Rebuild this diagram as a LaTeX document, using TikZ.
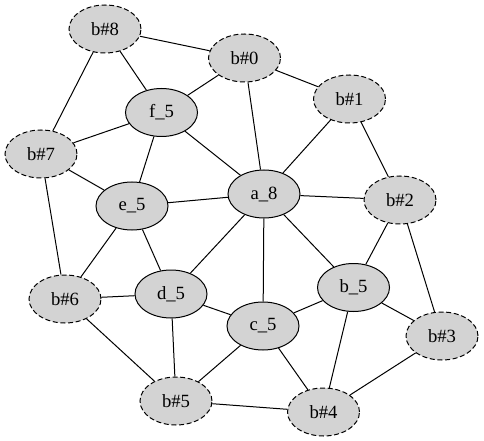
\documentclass[tikz,border=0pt]{standalone}
\usepackage{fontspec}
\setmainfont{Liberation Serif}
\usetikzlibrary{shapes.geometric}
\tikzset{
  gnode/.style={ellipse, draw=black, fill={rgb,255:red,211;green,211;blue,211}, line width=0.75pt, minimum width=54pt, minimum height=36pt, inner sep=0pt, font=\fontsize{14}{16}\selectfont},
  solidnode/.style={gnode},
  bnode/.style={gnode, dash pattern=on 3.75pt off 2pt},
  edge/.style={line width=0.75pt, draw=black}
}
\begin{document}
\begin{tikzpicture}[x=0.75pt, y=-0.75pt]
\useasboundingbox (0,0) rectangle (484,441);
\node[bnode] (b8) at (105,29) {b\#8};
\node[bnode] (b0) at (244.5,58) {b\#0};
\node[bnode] (b1) at (349.5,99) {b\#1};
\node[solidnode] (f5) at (161.5,112.5) {f\_5};
\node[bnode] (b7) at (41,154) {b\#7};
\node[solidnode] (a8) at (264,194) {a\_8};
\node[bnode] (b2) at (400,200) {b\#2};
\node[solidnode] (e5) at (132,206) {e\_5};
\node[bnode] (b6) at (65,299) {b\#6};
\node[solidnode] (d5) at (171,294) {d\_5};
\node[solidnode] (b5) at (353.5,287.5) {b\_5};
\node[solidnode] (c5) at (263,326) {c\_5};
\node[bnode] (b3) at (442,336) {b\#3};
\node[bnode] (bf) at (176,401) {b\#5};
\node[bnode] (b4) at (323.5,412) {b\#4};
\foreach \u/\v in {b8/b0, b8/f5, b8/b7, b0/f5, b0/b1, b0/a8, b1/a8, b1/b2,
  f5/b7, f5/a8, f5/e5, b7/e5, b7/b6, a8/e5, a8/b2, a8/d5, a8/c5, a8/b5,
  b2/b5, b2/b3, e5/b6, e5/d5, b6/d5, b6/bf, d5/c5, d5/bf, b5/c5, b5/b3,
  b5/b4, c5/bf, c5/b4, b3/b4, bf/b4}
  \draw[edge] (\u) -- (\v);
\end{tikzpicture}
\end{document}
